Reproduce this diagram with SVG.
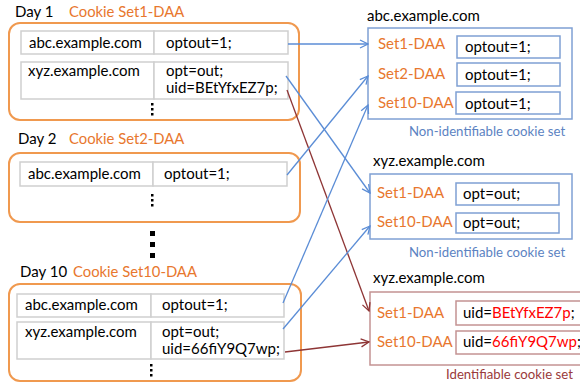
<svg xmlns="http://www.w3.org/2000/svg" width="580" height="384" viewBox="0 0 580 384">
<defs>
<style>
text{font-family:Lato,"Liberation Sans",sans-serif;font-size:15px;fill:#000}
.or{fill:#E8772E}
.set{font-size:14.8px}
.cap{font-size:13.2px}
.nid{fill:#5C83C2}
.id{fill:#9A3A3A}
.red{fill:#FF0000}
.obox{fill:#fff;stroke:#F0994F;stroke-width:2}
.cell{fill:#fff;stroke:#CFCFCF;stroke-width:1.5}
.bbox{fill:#fff;stroke:#7FA0D4;stroke-width:1.5}
.rbox{fill:#fff;stroke:#C49393;stroke-width:1.5}
.dot{fill:#000}
.cb{stroke:#5B8DD6;stroke-width:1.3;fill:none;marker-end:url(#ab)}
.cr{stroke:#8E3535;stroke-width:1.3;fill:none;marker-end:url(#ar)}
</style>
<marker id="ab" viewBox="0 0 10 10" refX="9" refY="5" markerWidth="10" markerHeight="10" markerUnits="userSpaceOnUse" orient="auto">
<path d="M1,1 L9,5 L1,9" fill="none" stroke="#5B8DD6" stroke-width="1.3"/>
</marker>
<marker id="ar" viewBox="0 0 10 10" refX="9" refY="5" markerWidth="10" markerHeight="10" markerUnits="userSpaceOnUse" orient="auto">
<path d="M1,1 L9,5 L1,9" fill="none" stroke="#8E3535" stroke-width="1.3"/>
</marker>
</defs>

<g id="day1">
<text x="15" y="17">Day 1</text>
<text x="69" y="17" class="or set">Cookie Set1-DAA</text>
<rect class="obox" x="9" y="23" width="290" height="97" rx="11"/>
<rect class="cell" x="21" y="31" width="133" height="23"/>
<rect class="cell" x="154" y="31" width="134" height="23"/>
<text x="29" y="48">abc.example.com</text>
<text x="166" y="48">optout=1;</text>
<rect class="cell" x="21" y="62" width="133" height="37"/>
<rect class="cell" x="154" y="62" width="134" height="37"/>
<text x="28" y="76">xyz.example.com</text>
<text x="166" y="76">opt=out;</text>
<text x="166" y="93">uid=BEtYfxEZ7p;</text>
<rect class="dot" x="151" y="103" width="2.5" height="2.5"/>
<rect class="dot" x="151" y="108" width="2.5" height="2.5"/>
<rect class="dot" x="151" y="113" width="2.5" height="2.5"/>
</g>

<g id="day2">
<text x="18" y="144">Day 2</text>
<text x="69" y="144" class="or set">Cookie Set2-DAA</text>
<rect class="obox" x="9" y="153" width="291" height="69" rx="11"/>
<rect class="cell" x="20" y="162" width="133" height="24"/>
<rect class="cell" x="153" y="162" width="134" height="24"/>
<text x="28" y="179">abc.example.com</text>
<text x="164" y="179">optout=1;</text>
<rect class="dot" x="151" y="194" width="2.5" height="2.5"/>
<rect class="dot" x="151" y="199" width="2.5" height="2.5"/>
<rect class="dot" x="151" y="204" width="2.5" height="2.5"/>
</g>

<g id="ellipsis">
<rect class="dot" x="150" y="231" width="5" height="5"/>
<rect class="dot" x="150" y="242" width="5" height="5"/>
<rect class="dot" x="150" y="253" width="5" height="5"/>
</g>

<g id="day10">
<text x="20" y="277">Day 10</text>
<text x="73" y="277" class="or set">Cookie Set10-DAA</text>
<rect class="obox" x="9" y="284" width="292" height="97" rx="11"/>
<rect class="cell" x="17" y="294" width="134" height="23"/>
<rect class="cell" x="151" y="294" width="133" height="23"/>
<text x="25" y="310">abc.example.com</text>
<text x="162" y="310">optout=1;</text>
<rect class="cell" x="17" y="322" width="134" height="37"/>
<rect class="cell" x="151" y="322" width="133" height="37"/>
<text x="25" y="337">xyz.example.com</text>
<text x="162" y="337">opt=out;</text>
<text x="162" y="354">uid=66fiY9Q7wp;</text>
<rect class="dot" x="150" y="364" width="2.5" height="2.5"/>
<rect class="dot" x="150" y="369" width="2.5" height="2.5"/>
<rect class="dot" x="150" y="374" width="2.5" height="2.5"/>
</g>

<g id="abc-set">
<text x="367" y="21">abc.example.com</text>
<rect class="bbox" x="368" y="28" width="204" height="91"/>
<text x="378" y="49" class="or">Set1-DAA</text>
<text x="378" y="79" class="or">Set2-DAA</text>
<text x="378" y="108" class="or">Set10-DAA</text>
<rect class="bbox" x="457" y="36" width="103" height="22"/>
<rect class="bbox" x="457" y="63" width="103" height="23"/>
<rect class="bbox" x="456" y="92" width="104" height="22"/>
<text x="465" y="52">optout=1;</text>
<text x="465" y="80">optout=1;</text>
<text x="465" y="109">optout=1;</text>
<text x="409" y="136" class="cap nid">Non-identifiable cookie set</text>
</g>

<g id="xyz-nonid-set">
<text x="373" y="166">xyz.example.com</text>
<rect class="bbox" x="370" y="174" width="202" height="65"/>
<text x="377" y="198" class="or">Set1-DAA</text>
<text x="377" y="227" class="or">Set10-DAA</text>
<rect class="bbox" x="456" y="183" width="103" height="22"/>
<rect class="bbox" x="456" y="213" width="103" height="20"/>
<text x="463" y="199">opt=out;</text>
<text x="463" y="228">opt=out;</text>
<text x="409" y="257" class="cap nid">Non-identifiable cookie set</text>
</g>

<g id="xyz-id-set">
<text x="373" y="283">xyz.example.com</text>
<rect class="rbox" x="370" y="292" width="215" height="73"/>
<text x="377" y="318" class="or">Set1-DAA</text>
<text x="377" y="347" class="or">Set10-DAA</text>
<rect class="rbox" x="456" y="301" width="130" height="24"/>
<rect class="rbox" x="456" y="331" width="130" height="23"/>
<text x="463" y="318">uid=<tspan class="red">BEtYfxEZ7p</tspan>;</text>
<text x="463" y="347">uid=<tspan class="red">66fiY9Q7wp</tspan>;</text>
<text x="446" y="379" class="cap id">Identifiable cookie set</text>
</g>

<g id="connectors">
<line class="cb" x1="288" y1="44" x2="368" y2="44"/>
<line class="cb" x1="286" y1="76" x2="370" y2="193"/>
<line class="cr" x1="287" y1="90" x2="369" y2="311"/>
<line class="cb" x1="287" y1="175" x2="368" y2="76"/>
<line class="cb" x1="283" y1="303" x2="368" y2="105"/>
<line class="cb" x1="283" y1="329" x2="370" y2="226"/>
<line class="cr" x1="285" y1="352" x2="369" y2="342"/>
</g>
</svg>
